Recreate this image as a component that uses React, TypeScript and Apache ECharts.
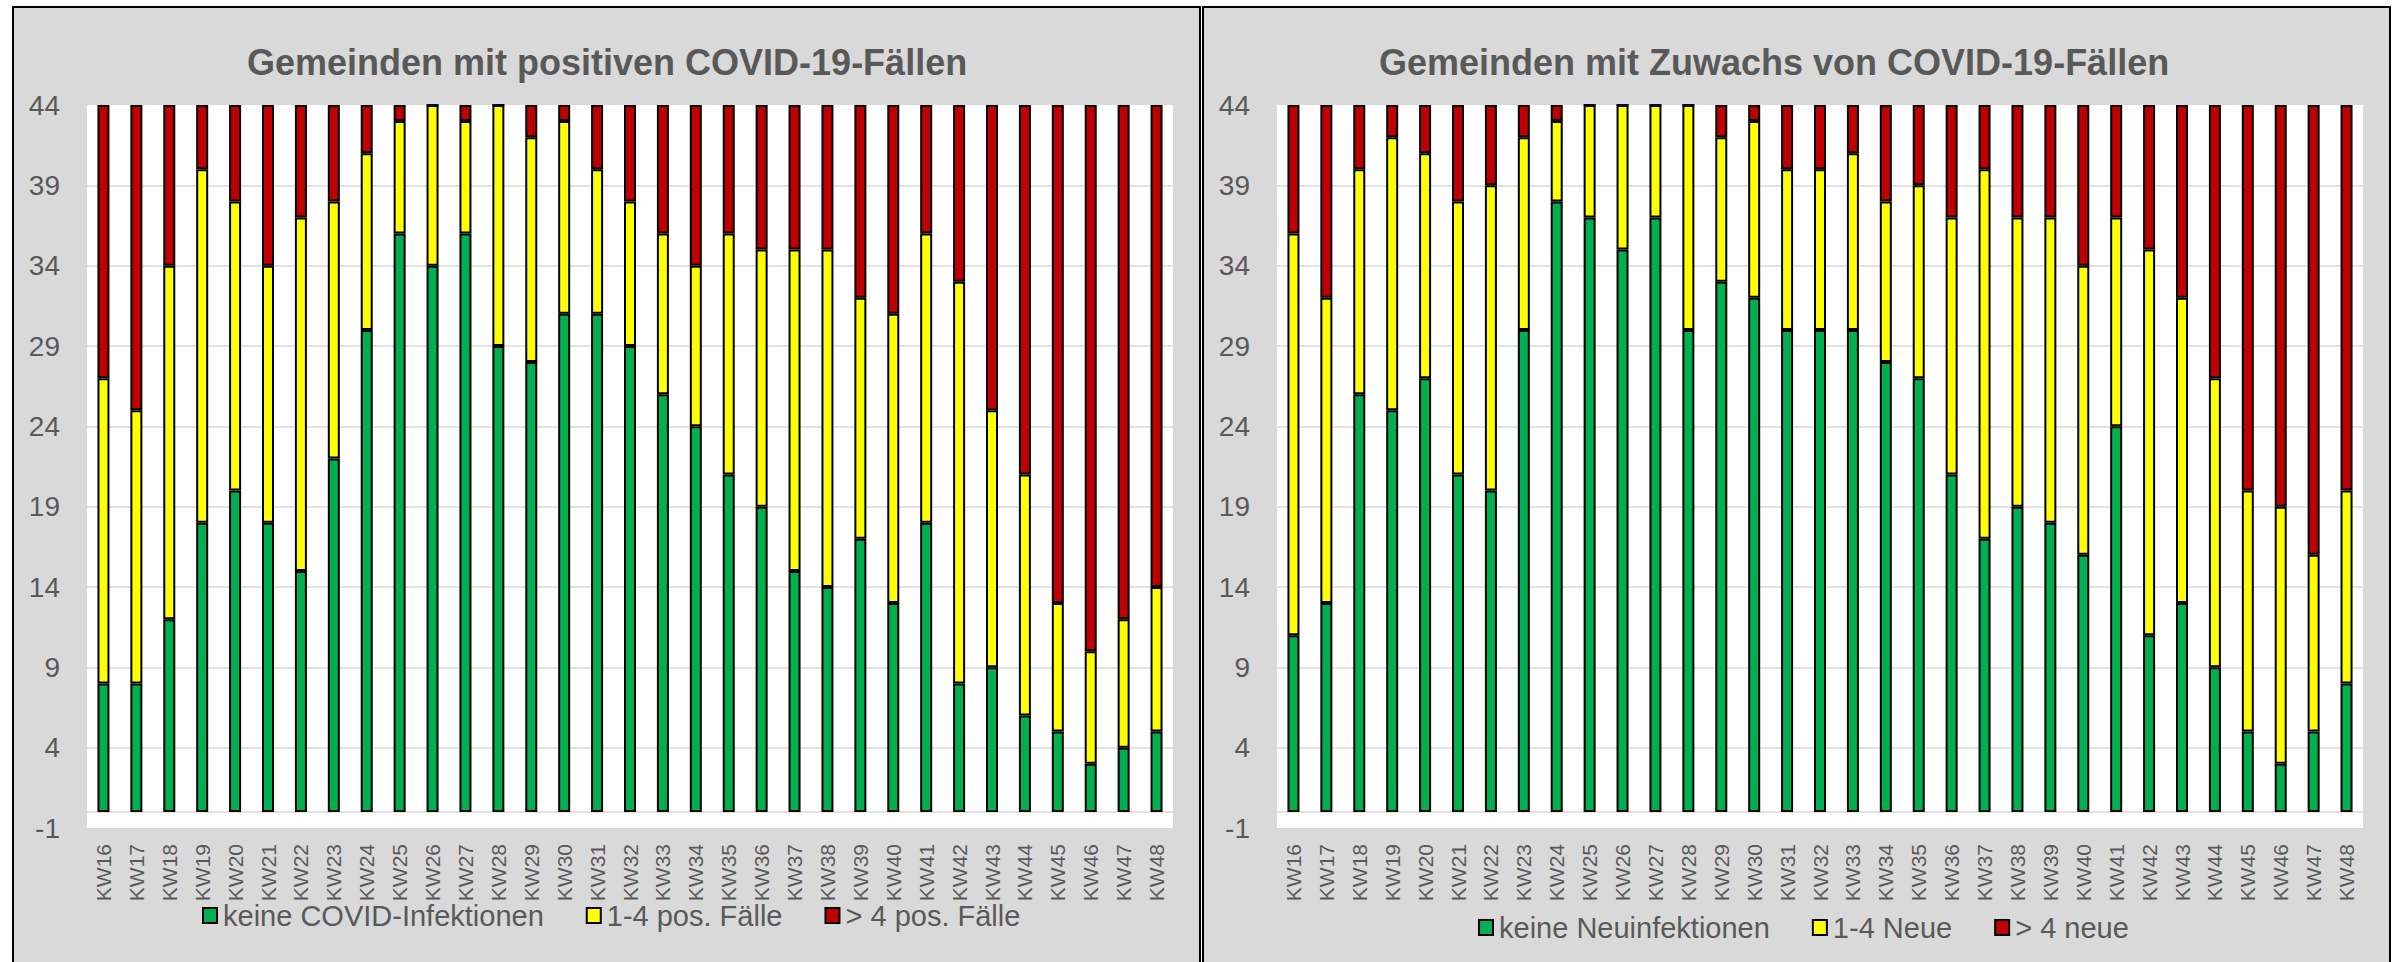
import React, { useEffect, useRef } from "react";
import * as echarts from "echarts";

const weeks = [
  "KW16", "KW17", "KW18", "KW19", "KW20", "KW21", "KW22", "KW23", "KW24", "KW25", "KW26",
  "KW27", "KW28", "KW29", "KW30", "KW31", "KW32", "KW33", "KW34", "KW35", "KW36", "KW37",
  "KW38", "KW39", "KW40", "KW41", "KW42", "KW43", "KW44", "KW45", "KW46", "KW47", "KW48",
];

// Left chart: Gemeinden mit positiven COVID-19-Fällen
const posNone = [8, 8, 12, 18, 20, 18, 15, 22, 30, 36, 34, 36, 29, 28, 31, 31, 29, 26, 24, 21, 19, 15, 14, 17, 13, 18, 8, 9, 6, 5, 3, 4, 5];
const posFew = [19, 17, 22, 22, 18, 16, 22, 16, 11, 7, 10, 7, 15, 14, 12, 9, 9, 10, 10, 15, 16, 20, 21, 15, 18, 18, 25, 16, 15, 8, 7, 8, 9];
const posMany = [17, 19, 10, 4, 6, 10, 7, 6, 3, 1, 0, 1, 0, 2, 1, 4, 6, 8, 10, 8, 9, 9, 9, 12, 13, 8, 11, 19, 23, 31, 34, 32, 30];

// Right chart: Gemeinden mit Zuwachs von COVID-19-Fällen
const newNone = [11, 13, 26, 25, 27, 21, 20, 30, 38, 37, 35, 37, 30, 33, 32, 30, 30, 30, 28, 27, 21, 17, 19, 18, 16, 24, 11, 13, 9, 5, 3, 5, 8];
const newFew = [25, 19, 14, 17, 14, 17, 19, 12, 5, 7, 9, 7, 14, 9, 11, 10, 10, 11, 10, 12, 16, 23, 18, 19, 18, 13, 24, 19, 18, 15, 16, 11, 12];
const newMany = [8, 12, 4, 2, 3, 6, 5, 2, 1, 0, 0, 0, 0, 2, 1, 4, 4, 3, 6, 5, 7, 4, 7, 7, 10, 7, 9, 12, 17, 24, 25, 28, 24];

const leftNames = ["keine COVID-Infektionen", "1-4 pos. Fälle", "> 4 pos. Fälle"];
const rightNames = ["keine Neuinfektionen", "1-4 Neue", "> 4 neue"];
const titles = ["Gemeinden mit positiven COVID-19-Fällen", "Gemeinden mit Zuwachs von COVID-19-Fällen"];

const COLORS = ["#00b050", "#ffff00", "#c00000"];
const FONT = "'Liberation Sans', Arial, Helvetica, sans-serif";
const TEXT = "#595959";

export default function App() {
  const ref = useRef<HTMLDivElement>(null);

  useEffect(() => {
    if (!ref.current) return;
    const chart = echarts.init(ref.current, undefined, { renderer: "svg" });

    const gridLefts = [87, 1277];
    const legendPos = [
      { left: 202, top: 901 },
      { left: 1478, top: 913 },
    ];
    const titleLefts = [247, 1379];
    const names = [leftNames, rightNames];
    const data = [
      [posNone, posFew, posMany],
      [newNone, newFew, newMany],
    ];

    const xAxis: any[] = [];
    const yAxis: any[] = [];
    const grid: any[] = [];
    const legend: any[] = [];
    const series: any[] = [];
    const graphic: any[] = [];

    [0, 1].forEach((i) => {
      grid.push({
        left: gridLefts[i],
        top: 105,
        width: 1086,
        height: 723,
        show: true,
        backgroundColor: "#ffffff",
        borderWidth: 0,
      });
      xAxis.push({
        type: "category",
        gridIndex: i,
        data: weeks,
        axisTick: { show: false },
        axisLine: { show: true, onZero: true, lineStyle: { color: "#d9d9d9", width: 1.5 } },
        axisLabel: {
          rotate: 90,
          interval: 0,
          fontSize: 21,
          color: TEXT,
          fontFamily: FONT,
          margin: 16,
        },
      });
      yAxis.push({
        type: "value",
        gridIndex: i,
        min: -1,
        max: 44,
        interval: 5,
        axisLine: { show: false },
        axisTick: { show: false },
        splitLine: {
          show: true,
          showMinLine: false,
          showMaxLine: false,
          lineStyle: { color: "#d9d9d9", width: 1.5 },
        },
        axisLabel: { fontSize: 28, color: TEXT, fontFamily: FONT, margin: 27 },
      });
      legend.push({
        data: names[i],
        left: legendPos[i].left,
        top: legendPos[i].top,
        orient: "horizontal",
        icon: "rect",
        itemWidth: 14,
        itemHeight: 15,
        itemGap: 42,
        padding: 0,
        textStyle: { color: TEXT, fontSize: 29, fontFamily: FONT, padding: [0, 0, 0, 1] },
      });
      names[i].forEach((n, k) => {
        series.push({
          name: n,
          type: "bar",
          stack: "s" + i,
          xAxisIndex: i,
          yAxisIndex: i,
          data: data[i][k],
          barWidth: 12,
          itemStyle: { color: COLORS[k], borderColor: "#000000", borderWidth: 2 },
          emphasis: { disabled: true },
        });
      });
      graphic.push({
        type: "text",
        left: titleLefts[i],
        top: 44,
        z: 100,
        style: {
          text: titles[i],
          fill: TEXT,
          font: `bold 36px ${FONT}`,
        },
      });
    });

    chart.setOption({
      animation: false,
      backgroundColor: "transparent",
      textStyle: { fontFamily: FONT },
      grid,
      xAxis,
      yAxis,
      legend,
      series,
      graphic,
    });

    return () => chart.dispose();
  }, []);

  return (
    <div style={{ position: "absolute", left: 0, top: 0, width: 2399, height: 962, overflow: "hidden", background: "#fff" }}>
      <div
        style={{
          position: "absolute",
          left: 12,
          top: 6,
          width: 1189,
          height: 1000,
          boxSizing: "border-box",
          border: "2px solid #000",
          background: "#d9d9d9",
        }}
      />
      <div
        style={{
          position: "absolute",
          left: 1202,
          top: 6,
          width: 1189,
          height: 1000,
          boxSizing: "border-box",
          border: "2px solid #000",
          background: "#d9d9d9",
        }}
      />
      <div ref={ref} style={{ position: "absolute", left: 0, top: 0, width: 2399, height: 962 }} />
    </div>
  );
}
